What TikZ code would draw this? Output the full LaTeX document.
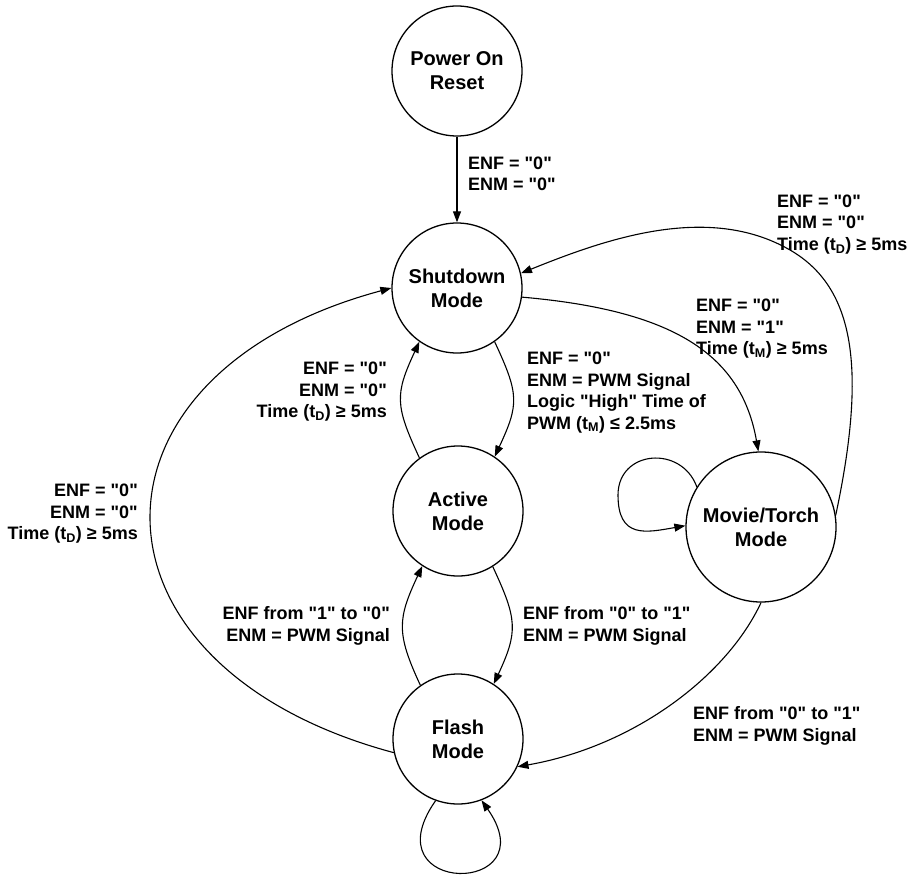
\documentclass[tikz,border=0pt]{standalone}
\usepackage{fontspec}
\setmainfont{Liberation Sans}[Ligatures=TeXOff]
\usetikzlibrary{arrows.meta}
\begin{document}
\begin{tikzpicture}[x=1pt,y=1pt,
  state/.style={draw, circle, line width=1.3pt, minimum size=130pt, inner sep=0pt, align=center,
    font=\bfseries\fontsize{20}{24}\selectfont},
  lbl/.style={inner sep=0pt, font=\bfseries\fontsize{18}{21.5}\selectfont},
  tr/.style={-{Triangle[length=11pt,width=8pt]}, line width=1.1pt}]
\useasboundingbox (0,0) rectangle (909,-877);
% states
\node[state] (por) at (457,-71) {Power On\\Reset};
\node[state] (sd)  at (457,-288) {Shutdown\\Mode};
\node[state] (act) at (458,-511) {Active\\Mode};
\node[state] (fl)  at (458,-739) {Flash\\Mode};
\node[state, minimum size=150pt] (mov) at (761,-527) {Movie/Torch\\Mode};
\coordinate (movloop) at (618,-495);
\coordinate (movsd) at (790,-250);
% transitions
\draw[tr] (por) -- (sd);
\draw[tr] (mov.9) .. controls +(78:150) and +(-30:75) .. (movsd)
  .. controls +(150:95) and +(22:90) .. (sd.13);
\draw[tr] (sd.-8) .. controls +(-5:150) and +(100:100) .. (mov.92);
\draw[tr] (sd.-55) .. controls +(-65:58) and +(65:58) .. (act.56);
\draw[tr] (act.126) .. controls +(115:58) and +(-115:58) .. (sd.-125);
\draw[tr] (act.-58) .. controls +(-65:58) and +(65:58) .. (fl.57);
\draw[tr] (fl.125) .. controls +(115:58) and +(-115:58) .. (act.-123);
\draw[tr] (fl.192) .. controls +(165:333) and +(195:333) .. (sd.180);
\draw[tr] (mov.-90) .. controls +(-115:80) and +(10:120) .. (fl.-25);
\draw[tr] (mov.148) .. controls +(110:45) and +(90:45) .. (movloop)
  .. controls +(-90:44) and +(190:40) .. (mov.179);
\draw[tr] (fl.-110) .. controls +(-125:117) and +(-55:117) .. (fl.-69);
% labels (anchor = baseline of last line)
\node[lbl, align=left, anchor=base west] (l1) at (468,-191) {ENF = "0"\\ENM = "0"};
\node[lbl, align=left, anchor=base west] (l2) at (777,-250.5) {ENF = "0"\\ENM = "0"\\Time (t\textsubscript{D}) ≥ 5ms};
\node[lbl, align=left, anchor=base west] (l3) at (696,-354.5) {ENF = "0"\\ENM = "1"\\Time (t\textsubscript{M}) ≥ 5ms};
\node[lbl, align=left, anchor=base west] (l4) at (527,-429) {ENF = "0"\\ENM = PWM Signal\\Logic "High" Time of\\PWM (t\textsubscript{M}) ≤ 2.5ms};
\node[lbl, align=right, anchor=base east] (l5) at (387,-417.5) {ENF = "0"\\ENM = "0"\\Time (t\textsubscript{D}) ≥ 5ms};
\node[lbl, align=left, anchor=base west] (l6) at (523,-641) {ENF from "0" to "1"\\ENM = PWM Signal};
\node[lbl, align=right, anchor=base east] (l7) at (390,-641) {ENF from "1" to "0"\\ENM = PWM Signal};
\node[lbl, align=right, anchor=base east] (l8) at (138,-539.5) {ENF = "0"\\ENM = "0"\\Time (t\textsubscript{D}) ≥ 5ms};
\node[lbl, align=left, anchor=base west] (l9) at (693,-741) {ENF from "0" to "1"\\ENM = PWM Signal};
\end{tikzpicture}
\end{document}
